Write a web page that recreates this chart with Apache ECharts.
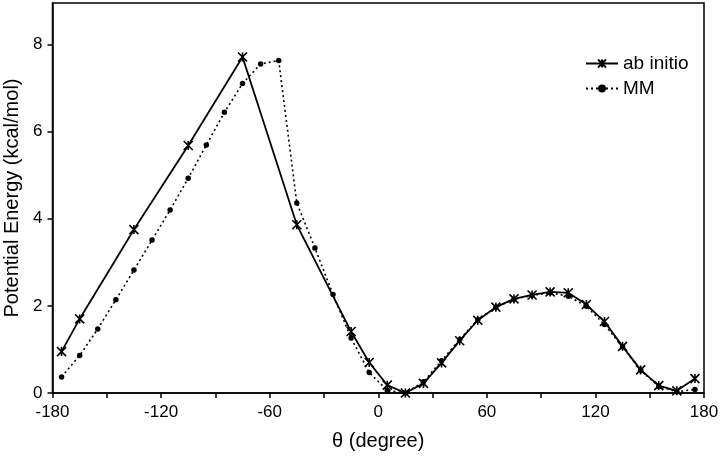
<!DOCTYPE html>
<html>
<head>
<meta charset="utf-8">
<script src="https://cdn.jsdelivr.net/npm/echarts@6/dist/echarts.min.js"></script>
<style>html,body{margin:0;padding:0;background:#fff;}#c{width:720px;height:466px;}</style>
</head>
<body>
<div id="c"></div>
<script>
const abTheta = [-175,-165,-135,-105,-75,-45,-15,-5,5,15,25,35,45,55,65,75,85,95,105,115,125,135,145,155,165,175];
const abEnergy = [0.95,1.70,3.75,5.68,7.71,3.86,1.41,0.70,0.18,0.00,0.22,0.69,1.20,1.67,1.97,2.16,2.25,2.32,2.30,2.03,1.64,1.07,0.53,0.17,0.05,0.33];
const mmTheta = [-175,-165,-155,-145,-135,-125,-115,-105,-95,-85,-75,-65,-55,-45,-35,-25,-15,-5,5,15,25,35,45,55,65,75,85,95,105,115,125,135,145,155,165,175];
const mmEnergy = [0.37,0.86,1.47,2.14,2.82,3.51,4.20,4.93,5.69,6.44,7.10,7.55,7.63,4.36,3.33,2.26,1.26,0.47,0.06,0.00,0.26,0.74,1.23,1.68,1.97,2.15,2.24,2.30,2.22,1.99,1.57,1.06,0.52,0.15,0.03,0.08];
const xTicks = [-180,-150,-120,-90,-60,-30,0,30,60,90,120,150,180];
const xLabels = [-180,-120,-60,0,60,120,180];
const yTicks = [0,2,4,6,8];

const font = 'Liberation Sans, Arial, sans-serif';
const chart = echarts.init(document.getElementById('c'));
chart.setOption({
  animation: false,
  backgroundColor: '#fff',
  grid: {left: 52.5, right: 16, top: 3, bottom: 73, show: true, borderColor: '#000', borderWidth: 1.5, backgroundColor: 'transparent', containLabel: false, outerBoundsMode: 'none'},
  legend: {
    orient: 'vertical', left: 580, top: 49, itemWidth: 32, itemHeight: 10, itemGap: 6,
    textStyle: {fontFamily: font, fontSize: 19, color: '#000'},
    data: ['ab initio', 'MM']
  },
  xAxis: {
    type: 'value', min: -180, max: 180, interval: 30,
    name: 'θ (degree)', nameLocation: 'middle', nameGap: 38,
    nameTextStyle: {fontFamily: font, fontSize: 20, color: '#000'},
    axisLine: {onZero: false, lineStyle: {color: '#000', width: 1.5}},
    axisTick: {show: true, length: 5, lineStyle: {color: '#000', width: 1.5}, customValues: xTicks},
    axisLabel: {fontFamily: font, fontSize: 17, color: '#000', margin: 11, customValues: xLabels},
    splitLine: {show: false}
  },
  yAxis: {
    type: 'value', min: 0, max: 8.95, interval: 2,
    name: 'Potential Energy (kcal/mol)', nameLocation: 'middle', nameGap: 30,
    nameTextStyle: {fontFamily: font, fontSize: 20, color: '#000'},
    axisLine: {onZero: false, lineStyle: {color: '#000', width: 1.5}},
    axisTick: {show: true, length: 5, lineStyle: {color: '#000', width: 1.5}, customValues: yTicks},
    axisLabel: {fontFamily: font, fontSize: 17, color: '#000', margin: 10, customValues: yTicks},
    splitLine: {show: false}
  },
  series: [
    {
      name: 'ab initio', type: 'line',
      data: abTheta.map((t, i) => [t, abEnergy[i]]),
      symbol: 'path://M0,0L10,10M10,0L0,10M5,0L5,10', symbolSize: 9,
      itemStyle: {color: '#000', borderColor: '#000', borderWidth: 1.6},
      lineStyle: {color: '#000', width: 1.8},
      z: 3
    },
    {
      name: 'MM', type: 'line',
      data: mmTheta.map((t, i) => [t, mmEnergy[i]]),
      symbol: 'circle', symbolSize: 5.5,
      itemStyle: {color: '#000'},
      lineStyle: {color: '#000', width: 1.6, type: [2, 3]},
      z: 2
    }
  ]
});
</script>
</body>
</html>
